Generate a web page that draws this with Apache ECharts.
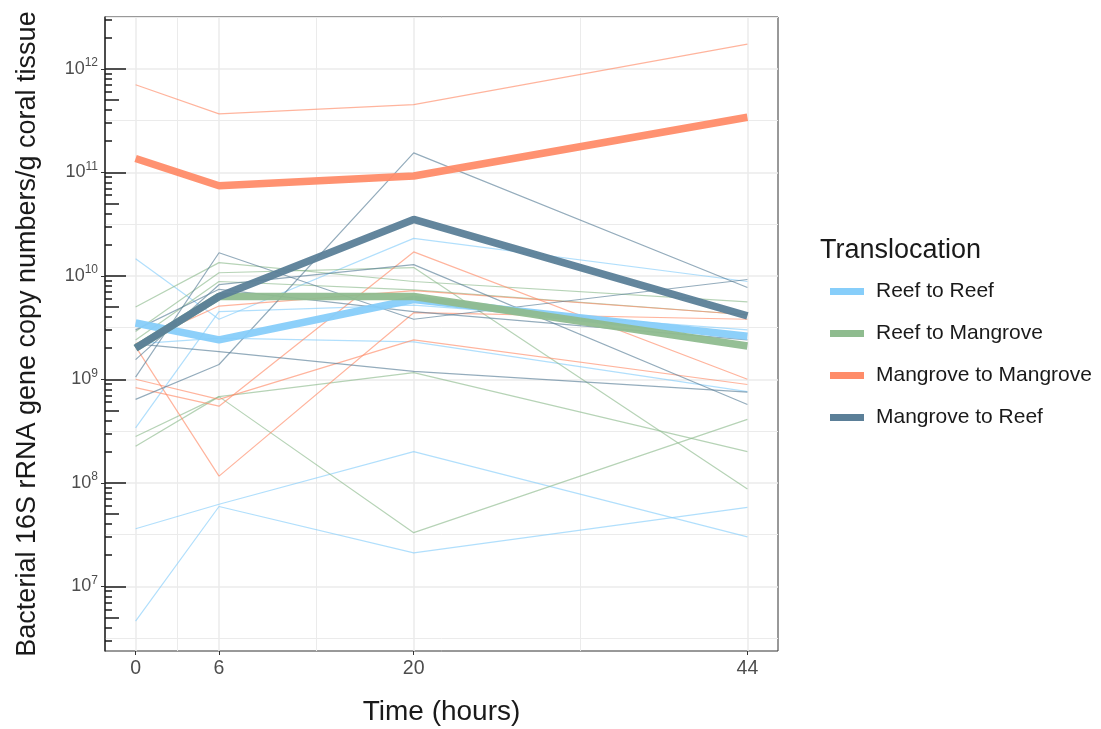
<!DOCTYPE html>
<html>
<head>
<meta charset="utf-8">
<script src="https://cdn.jsdelivr.net/npm/echarts@6/dist/echarts.min.js"></script>
<style>
  html, body { margin: 0; background: #fff; }
  #chart { width: 1101px; height: 729px; }
</style>
</head>
<body>
<div id="chart"></div>
<script>
// sampling times
const hours = [0, 6, 20, 44]

const groups = ["Reef to Reef", "Reef to Mangrove", "Mangrove to Mangrove", "Mangrove to Reef"]
const colors = ["#87CEFA", "#8FBC8F", "#FF8C69", "#5B7F98"]

// group means (thick lines)
const reefReefMean = [3.5e9, 2.4e9, 5.9e9, 2.6e9]
const reefMangroveMean = [2.0e9, 6.3e9, 6.3e9, 2.1e9]
const mangroveMangroveMean = [1.36e11, 7.4e10, 9.2e10, 3.4e11]
const mangroveReefMean = [2.0e9, 6.3e9, 3.5e10, 4.1e9]

// individual colonies (thin lines)
const reefReef1 = [1.46e10, 3.8e9, 2.3e10, 8.8e9]
const reefReef2 = [3.4e8, 4.5e9, 5.2e9, 3.0e9]
const reefReef3 = [3.6e7, 6.2e7, 2.0e8, 3.0e7]
const reefReef4 = [4.6e6, 5.9e7, 2.1e7, 5.8e7]
const reefReef5 = [2.2e9, 2.5e9, 2.3e9, 7.6e8]

const reefMangrove1 = [2.8e8, 6.8e8, 1.16e9, 2.0e8]
const reefMangrove2 = [2.25e8, 6.8e8, 3.3e7, 4.1e8]
const reefMangrove3 = [5.0e9, 1.34e10, 8.8e9, 5.6e9]
const reefMangrove4 = [2.9e9, 1.07e10, 1.2e10, 8.7e7]
const reefMangrove5 = [2.4e9, 8.8e9, 7.3e9, 4.2e9]

const mangroveMangrove1 = [7.0e11, 3.66e11, 4.5e11, 1.73e12]
const mangroveMangrove2 = [2.07e9, 1.16e8, 4.4e9, 3.8e9]
const mangroveMangrove3 = [1.0e9, 6.4e8, 2.4e9, 8.9e8]
const mangroveMangrove4 = [8.3e8, 5.5e8, 1.7e10, 1.0e9]
const mangroveMangrove5 = [2.2e9, 5.1e9, 7.2e9, 4.2e9]

const mangroveReef1 = [6.4e8, 1.39e9, 1.54e11, 7.7e9]
const mangroveReef2 = [1.05e9, 1.67e10, 3.8e9, 9.2e9]
const mangroveReef3 = [1.55e9, 8.2e9, 1.28e10, 5.7e8]
const mangroveReef4 = [2.2e9, 1.85e9, 1.19e9, 7.5e8]
const mangroveReef5 = [3.0e9, 7.4e9, 4.5e9, 2.4e9]

const means = [reefReefMean, reefMangroveMean, mangroveMangroveMean, mangroveReefMean]
const samples = [
  [reefReef1, reefReef2, reefReef3, reefReef4, reefReef5],
  [reefMangrove1, reefMangrove2, reefMangrove3, reefMangrove4, reefMangrove5],
  [mangroveMangrove1, mangroveMangrove2, mangroveMangrove3, mangroveMangrove4, mangroveMangrove5],
  [mangroveReef1, mangroveReef2, mangroveReef3, mangroveReef4, mangroveReef5],
]

// log10 tick labels
const decades = [7, 8, 9, 10, 11, 12]

const yMin = 6.375
const yMax = 12.5
const xMin = -2.2
const xMax = 46.2

const toPoints = vals => hours.map((h, i) => [h, Math.log10(vals[i])])

// log tick positions (annotation_logticks style)
const minorGrid = []
const midTicks = []
const shortTicks = []
for (let n = 6; n <= 12; n++) {
  minorGrid.push(n + 0.5)
  midTicks.push(n + Math.log10(5))
  ;[2, 3, 4, 6, 7, 8, 9].forEach(k => shortTicks.push(n + Math.log10(k)))
}

const font = "Liberation Sans, Arial, sans-serif"
const gridColor = "#EBEBEB"

const hiddenY = extra => Object.assign({
  type: "value", min: yMin, max: yMax,
  position: "left", offset: 0,
  axisLine: { show: false, onZero: false },
  axisLabel: { show: false },
  splitLine: { show: false },
}, extra)

const series = []
samples.forEach((list, g) => {
  list.forEach((vals, j) => {
    series.push({
      type: "line",
      name: groups[g] + " " + (j + 1),
      data: toPoints(vals),
      symbol: "none",
      silent: true,
      z: 2,
      lineStyle: { width: 1.2, color: colors[g], opacity: 0.65 },
    })
  })
})
means.forEach((vals, g) => {
  series.push({
    type: "line",
    name: groups[g],
    data: toPoints(vals),
    symbol: "none",
    z: 3,
    itemStyle: { color: colors[g] },
    lineStyle: { width: 7.5, color: colors[g], opacity: 0.95 },
  })
})

const chart = echarts.init(document.getElementById("chart"))
chart.setOption({
  animation: false,
  textStyle: { fontFamily: font },
  title: {
    text: "Translocation",
    left: 815,
    top: 232,
    textStyle: { fontSize: 27, fontWeight: "normal", color: "#1A1A1A", fontFamily: font },
  },
  legend: {
    data: groups,
    orient: "vertical",
    left: 825,
    top: 276,
    icon: "rect",
    itemWidth: 34,
    itemHeight: 7,
    itemGap: 21,
    textStyle: { fontSize: 21, color: "#1A1A1A", padding: [0, 0, 0, 7] },
  },
  grid: {
    left: 105, right: 323, top: 17, bottom: 78,
    outerBoundsMode: "none",
    containLabel: false,
    show: true, borderColor: "#333333", borderWidth: 1,
  },
  xAxis: [
    {
      type: "value", min: xMin, max: xMax,
      axisLine: { show: false, onZero: false },
      axisTick: { customValues: hours, length: 4, lineStyle: { color: "#333333" } },
      axisLabel: { customValues: hours, fontSize: 19.5, color: "#4D4D4D", margin: 8 },
      splitLine: { show: true, lineStyle: { color: gridColor, width: 1.5 } },
      name: "Time (hours)",
      nameLocation: "middle",
      nameGap: 47,
      nameTextStyle: { fontSize: 28, color: "#1A1A1A" },
    },
    {
      type: "value", min: xMin, max: xMax,
      position: "bottom", offset: 0,
      axisLine: { show: false, onZero: false },
      axisTick: { show: false, customValues: [3, 13, 32] },
      axisLabel: { show: false },
      splitLine: { show: true, lineStyle: { color: gridColor, width: 1 } },
    },
  ],
  yAxis: [
    {
      type: "value", min: yMin, max: yMax,
      position: "left", offset: 0,
      axisLine: { show: true, onZero: false, lineStyle: { color: "#333333", width: 1.5 } },
      axisTick: { customValues: decades, length: 4, lineStyle: { color: "#333333" } },
      axisLabel: {
        customValues: decades,
        margin: 7,
        formatter: v => "{b|10}{s|" + v + "}",
        rich: {
          b: { fontSize: 18, color: "#4D4D4D", lineHeight: 24 },
          s: { fontSize: 12, color: "#4D4D4D", lineHeight: 13, verticalAlign: "top" },
        },
      },
      splitLine: { show: true, lineStyle: { color: gridColor, width: 1.5 } },
      name: "Bacterial 16S rRNA gene copy numbers/g coral tissue",
      nameLocation: "middle",
      nameGap: 64,
      nameTextStyle: { fontSize: 27, color: "#1A1A1A" },
    },
    hiddenY({
      axisTick: { show: false, customValues: minorGrid },
      splitLine: { show: true, lineStyle: { color: gridColor, width: 1 } },
    }),
    hiddenY({
      axisTick: { inside: true, length: 21, customValues: decades, lineStyle: { color: "#1A1A1A", width: 1.5 } },
    }),
    hiddenY({
      axisTick: { inside: true, length: 14, customValues: midTicks, lineStyle: { color: "#1A1A1A", width: 1.5 } },
    }),
    hiddenY({
      axisTick: { inside: true, length: 7, customValues: shortTicks, lineStyle: { color: "#1A1A1A", width: 1.5 } },
    }),
  ],
  series: series,
})
</script>
</body>
</html>
